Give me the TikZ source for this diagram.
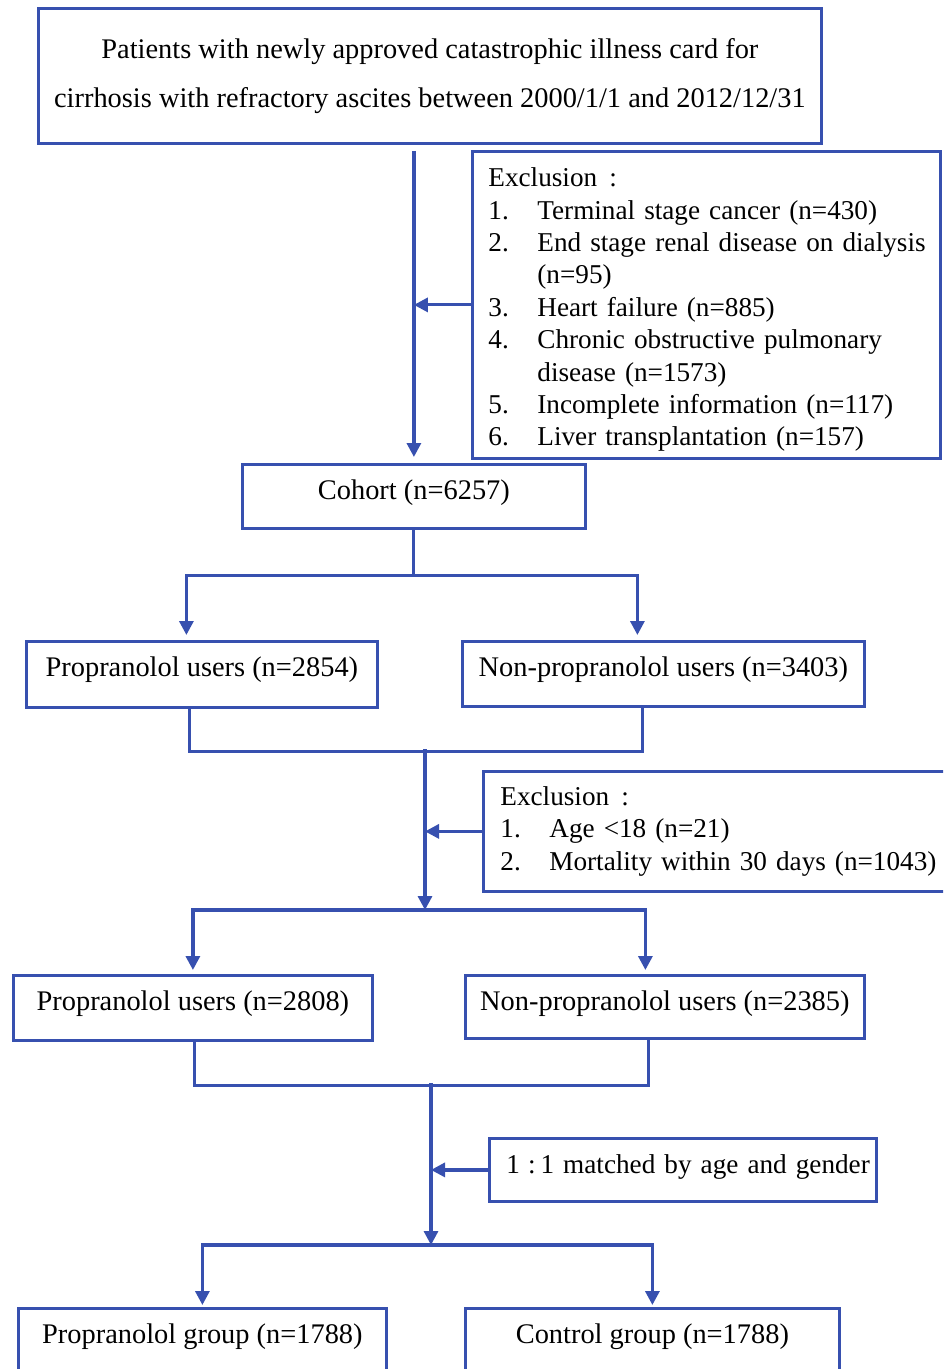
\documentclass[tikz,border=0pt]{standalone}
\usepackage{fontspec}
\setmainfont{Liberation Serif}
\usetikzlibrary{arrows.meta}
\definecolor{flowblue}{RGB}{55,80,175}
\newcommand{\fwc}{\hspace{0.45em}:\hspace{0.45em}}
\newcommand{\exitem}[2]{\mbox{\makebox[24.5pt][l]{#1}#2}}
\newcommand{\excont}[1]{\mbox{\hspace*{24.5pt}#1}}
\begin{document}
\begin{tikzpicture}[x=0.5pt,y=-0.5pt,
  every node/.style={font=\fontsize{14.2}{16.2}\selectfont},
  exfont/.style={font=\fontsize{13.6}{16.2}\selectfont},
  box/.style={draw=flowblue, line width=1.4pt, anchor=north west, inner sep=0pt},
  sbox/.style={box, align=center, text height=9.8pt},
  lbox/.style={box, align=left, exfont},
  conn/.style={draw=flowblue, line width=1.5pt},
  arr/.style={draw=flowblue, line width=1.6pt, -{Triangle[length=7pt,width=7pt]}}]
\useasboundingbox (0,0) rectangle (943,1369);
\clip (0,0) rectangle (943,1369);

% boxes
\node[box, minimum width=391.5pt, minimum height=67.5pt, align=center,
      font=\fontsize{14.2}{24.5}\selectfont] (top) at (37,7)
  {Patients with newly approved catastrophic illness card for\\
   cirrhosis with refractory ascites between 2000/1/1 and 2012/12/31};

\node[lbox, minimum width=234pt, minimum height=153.5pt, text width=218pt,
      inner xsep=8pt] (excl1) at (471,150)
  {\rule{0pt}{14.2pt}Exclusion\fwc\\
   \exitem{1.}{Terminal stage cancer (n=430)}\\
   \exitem{2.}{End stage renal disease on dialysis}\\
   \excont{(n=95)}\\
   \exitem{3.}{Heart failure (n=885)}\\
   \exitem{4.}{Chronic obstructive pulmonary}\\
   \excont{disease (n=1573)}\\
   \exitem{5.}{Incomplete information (n=117)}\\
   \exitem{6.}{Liver transplantation (n=157)}};

\node[sbox, minimum width=171.5pt, minimum height=32pt, text depth=6.8pt] (cohort) at (241,463) {Cohort (n=6257)};
\node[sbox, minimum width=175.5pt, minimum height=33pt, text depth=7.8pt] (prop1) at (25,640) {Propranolol users (n=2854)};
\node[sbox, minimum width=201pt, minimum height=32.5pt, text depth=7.3pt] (nonprop1) at (461,640) {Non-propranolol users (n=3403)};

\node[lbox, minimum width=239pt, minimum height=60pt, text width=222pt,
      inner xsep=8.5pt] (excl2) at (482,770)
  {Exclusion\fwc\\
   \exitem{1.}{Age <18 (n=21)}\\
   \exitem{2.}{Mortality within 30 days (n=1043)}};

\node[sbox, minimum width=179.5pt, minimum height=32.5pt, text depth=7.3pt] (prop2) at (12,974) {Propranolol users (n=2808)};
\node[sbox, minimum width=199.5pt, minimum height=31.5pt, text depth=6.3pt] (nonprop2) at (464,974) {Non-propranolol users (n=2385)};

\node[box, exfont, align=left, text height=9.8pt, text depth=6.3pt, text width=176.5pt, inner xsep=8.5pt,
      minimum width=193.5pt, minimum height=31.5pt] (match) at (488,1137)
  {\mbox{1\hspace{4pt}:\hspace{2.5pt}1 matched by age and gender}};

\node[sbox, minimum width=184pt, minimum height=40pt, text depth=14.8pt] (pgroup) at (17,1307) {Propranolol group (n=1788)};
\node[sbox, minimum width=187pt, minimum height=40pt, text depth=14.8pt] (control) at (464,1307) {Control group (n=1788)};

% junction coordinates
\coordinate (m1c) at (425,749);
\coordinate (j2) at (425,910);
\coordinate (m2c) at (431,1083);
\coordinate (j3) at (431,1245);

% connectors
\draw[arr, shorten <=3pt, shorten >=3pt] (cohort.north |- top.south) -- (cohort.north);
\draw[arr] (excl1.west) -- (excl1.west -| cohort.north);

\draw[conn] (cohort.south) -- ++(0,46) coordinate (j1);
\draw[arr, shorten >=2.5pt] (j1) -| ([xshift=-7.75pt]prop1.north);
\draw[arr, shorten >=2.5pt] (j1) -| ([xshift=-13pt]nonprop1.north);

\draw[conn] ([xshift=-6.25pt]prop1.south) -- ++(0,43) -| ([xshift=-10.5pt]nonprop1.south);
\draw[arr] (m1c) -- (j2);
\draw[arr] (excl2.west) -- (excl2.west -| j2);
\draw[arr, shorten >=2pt] (j2) -| (prop2.north);
\draw[arr, shorten >=2pt] (j2) -| ([xshift=-9.75pt]nonprop2.north);

\draw[conn] ([xshift=0.75pt]prop2.south) -- ++(0,44) -| ([xshift=-8.25pt]nonprop2.south);
\draw[arr] (m2c) -- (j3);
\draw[arr] (match.west) -- (match.west -| j3);
\draw[arr, shorten >=1pt] (j3) -| (pgroup.north);
\draw[arr, shorten >=1pt] (j3) -| (control.north);
\end{tikzpicture}
\end{document}
